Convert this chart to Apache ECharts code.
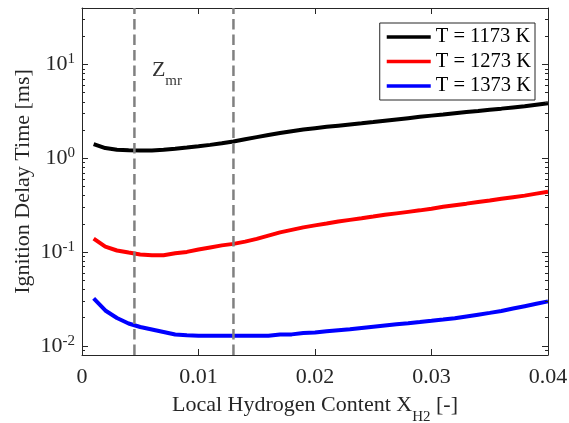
<!DOCTYPE html>
<html>
<head>
<meta charset="utf-8">
<script src="https://cdn.jsdelivr.net/npm/echarts@6/dist/echarts.min.js"></script>
<style>
  html, body { margin: 0; padding: 0; background: #ffffff; }
  #chart { width: 569px; height: 423px; }
</style>
</head>
<body>
<div id="chart"></div>
<script>
// Local hydrogen mole fraction X_H2 [-]
const xH2 = [
  0.001, 0.002, 0.003, 0.004, 0.005, 0.006, 0.007, 0.008, 0.009, 0.010,
  0.011, 0.012, 0.013, 0.014, 0.015, 0.016, 0.017, 0.018, 0.019, 0.020,
  0.021, 0.022, 0.023, 0.024, 0.025, 0.026, 0.027, 0.028, 0.029, 0.030,
  0.031, 0.032, 0.033, 0.034, 0.035, 0.036, 0.037, 0.038, 0.039, 0.040
];

// Ignition delay times [ms]
const tau1173 = [
  1.418, 1.285, 1.235, 1.217, 1.208, 1.211, 1.232, 1.263, 1.301, 1.343,
  1.390, 1.446, 1.510, 1.595, 1.680, 1.770, 1.858, 1.942, 2.025, 2.096,
  2.163, 2.228, 2.295, 2.363, 2.434, 2.513, 2.595, 2.679, 2.766, 2.849,
  2.934, 3.022, 3.112, 3.197, 3.293, 3.383, 3.485, 3.580, 3.724, 3.864
];
const tau1273 = [
  0.1393, 0.1142, 0.1040, 0.0988, 0.0945, 0.0927, 0.0927, 0.0970, 0.1005, 0.1066,
  0.1122, 0.1179, 0.1224, 0.1294, 0.1383, 0.1500, 0.1622, 0.1725, 0.1835, 0.1928,
  0.2015, 0.2116, 0.2206, 0.2295, 0.2392, 0.2495, 0.2588, 0.2685, 0.2786, 0.2904,
  0.3037, 0.3166, 0.3285, 0.3417, 0.3545, 0.3697, 0.3845, 0.3999, 0.4202, 0.4392
];
const tau1373 = [
  0.03210, 0.02386, 0.01985, 0.01734, 0.01590, 0.01496, 0.01407, 0.01323, 0.01297, 0.01282,
  0.01282, 0.01282, 0.01282, 0.01282, 0.01282, 0.01282, 0.01323, 0.01327, 0.01373, 0.01390,
  0.01430, 0.01466, 0.01503, 0.01552, 0.01599, 0.01647, 0.01697, 0.01747, 0.01799, 0.01853,
  0.01909, 0.01971, 0.02060, 0.02153, 0.02250, 0.02357, 0.02500, 0.02652, 0.02813, 0.02984
];

const seriesNames = ['T = 1173 K', 'T = 1273 K', 'T = 1373 K'];
const seriesColors = ['#000000', '#ff0000', '#0000ff'];

// Bounds of the most reactive mixture fraction region
const zmrBounds = [0.0045, 0.013];
const zmrLabelAt = [0.006, 8.7];

// Axis ranges and ticks
const xRange = [0, 0.04];
const xTickStep = 0.01;
const yRange = [0.008, 40];
const yMajorTicks = [0.01, 0.1, 1, 10];
const yMinorTicks = [
  0.008, 0.009,
  0.02, 0.03, 0.04, 0.05, 0.06, 0.07, 0.08, 0.09,
  0.2, 0.3, 0.4, 0.5, 0.6, 0.7, 0.8, 0.9,
  2, 3, 4, 5, 6, 7, 8, 9,
  20, 30, 40
];

const FONT = 'Liberation Serif';
const AXIS_COLOR = '#262626';

const chart = echarts.init(document.getElementById('chart'), null, { renderer: 'canvas' });

function pairs(ys) {
  return xH2.map((x, i) => [x, ys[i]]);
}

const yBase = {
  type: 'log',
  logBase: 10,
  min: yRange[0],
  max: yRange[1],
  splitLine: { show: false },
  minorTick: { show: false },
  minorSplitLine: { show: false },
  axisLine: { show: false, onZero: false },
  axisLabel: { show: false },
  z: 3
};

// Log axis on one side of the box; major and minor ticks use separate axes
function yAxisAt(position, ticks, len, withLine, withLabels) {
  const ax = Object.assign({}, yBase, {
    position: position,
    axisLine: { show: withLine, onZero: false, lineStyle: { color: AXIS_COLOR, width: 1 } },
    axisTick: { show: true, inside: true, length: len, customValues: ticks,
                lineStyle: { color: AXIS_COLOR, width: 1 } },
    axisLabel: { show: false }
  });
  if (withLabels) {
    ax.axisLabel = {
      show: true,
      customValues: yMajorTicks,
      margin: 7,
      color: AXIS_COLOR,
      formatter: function (v) {
        const e = Math.round(Math.log10(v));
        return '{b|10}{s|' + e + '}';
      },
      rich: {
        b: { fontFamily: FONT, fontSize: 22, color: AXIS_COLOR },
        s: { fontFamily: FONT, fontSize: 15, color: AXIS_COLOR, padding: [0, 0, 10, 0] }
      }
    };
    ax.name = 'Ignition Delay Time [ms]';
    ax.nameLocation = 'middle';
    ax.nameGap = 48;
    ax.nameMoveOverlap = false;
    ax.nameTextStyle = { fontFamily: FONT, fontSize: 22, color: AXIS_COLOR };
  }
  return ax;
}

function xAxisAt(position, withLabels) {
  const ax = {
    type: 'value',
    min: xRange[0],
    max: xRange[1],
    interval: xTickStep,
    position: position,
    splitLine: { show: false },
    axisLine: { show: true, onZero: false, lineStyle: { color: AXIS_COLOR, width: 1 } },
    axisTick: { show: true, inside: true, length: 6, lineStyle: { color: AXIS_COLOR, width: 1 } },
    axisLabel: { show: false },
    z: 3
  };
  if (withLabels) {
    ax.axisLabel = {
      show: true,
      margin: 11,
      fontFamily: FONT,
      fontSize: 22,
      color: AXIS_COLOR,
      formatter: function (v) { return v === 0 ? '0' : v.toFixed(2); }
    };
    ax.name = '{t|Local Hydrogen Content X}{sub|H2}{t| [-]}';
    ax.nameLocation = 'middle';
    ax.nameGap = 31;
    ax.nameMoveOverlap = false;
    ax.nameTextStyle = {
      rich: {
        t: { fontFamily: FONT, fontSize: 22, color: AXIS_COLOR },
        sub: { fontFamily: FONT, fontSize: 15, color: AXIS_COLOR, padding: [24, 0, 0, 0] }
      }
    };
  }
  return ax;
}

const lineSeries = seriesNames.map((name, i) => ({
  name: name,
  type: 'line',
  xAxisIndex: 0,
  yAxisIndex: 0,
  data: pairs([tau1173, tau1273, tau1373][i]),
  showSymbol: false,
  symbol: 'none',
  smooth: false,
  animation: false,
  lineStyle: { color: seriesColors[i], width: 4 },
  itemStyle: { color: seriesColors[i] },
  z: 2
}));

// Vertical dashed bounds, drawn from the bottom of the axis to the top
const boundSeries = zmrBounds.map((b, i) => ({
  name: 'zmr-bound-' + i,
  type: 'line',
  xAxisIndex: 0,
  yAxisIndex: 0,
  data: [[b, yRange[0]], [b, yRange[1]]],
  showSymbol: false,
  symbol: 'none',
  silent: true,
  animation: false,
  lineStyle: { color: '#808080', width: 2.5, type: [10.5, 5] },
  z: 4
}));

const zmrSeries = {
  name: 'Zmr',
  type: 'scatter',
  xAxisIndex: 0,
  yAxisIndex: 0,
  data: [zmrLabelAt],
  symbolSize: 0,
  silent: true,
  animation: false,
  label: {
    show: true,
    position: 'right',
    distance: 0,
    formatter: '{z|Z}{s|mr}',
    rich: {
      z: { fontFamily: FONT, fontSize: 22, color: '#000000' },
      s: { fontFamily: FONT, fontSize: 15, color: '#000000', padding: [22, 0, 0, 0] }
    }
  }
};

chart.setOption({
  backgroundColor: '#ffffff',
  animation: false,
  grid: {
    left: 82, right: 21, top: 8, bottom: 68,
    containLabel: false,
    outerBoundsMode: 'none'
  },
  legend: {
    data: seriesNames,
    orient: 'vertical',
    right: 34,
    top: 23,
    icon: 'rect',
    itemWidth: 44,
    itemHeight: 3.5,
    itemGap: 2.5,
    padding: [3, 4, 3, 7],
    borderColor: AXIS_COLOR,
    borderWidth: 1,
    backgroundColor: '#ffffff',
    selectedMode: false,
    textStyle: { fontFamily: FONT, fontSize: 20.5, color: '#000000', lineHeight: 22 }
  },
  xAxis: [xAxisAt('bottom', true), xAxisAt('top', false)],
  yAxis: [
    yAxisAt('left', yMajorTicks, 6, true, true),
    yAxisAt('left', yMinorTicks, 3, false, false),
    yAxisAt('right', yMajorTicks, 6, true, false),
    yAxisAt('right', yMinorTicks, 3, false, false)
  ],
  series: lineSeries.concat(boundSeries, [zmrSeries])
});
</script>
</body>
</html>
